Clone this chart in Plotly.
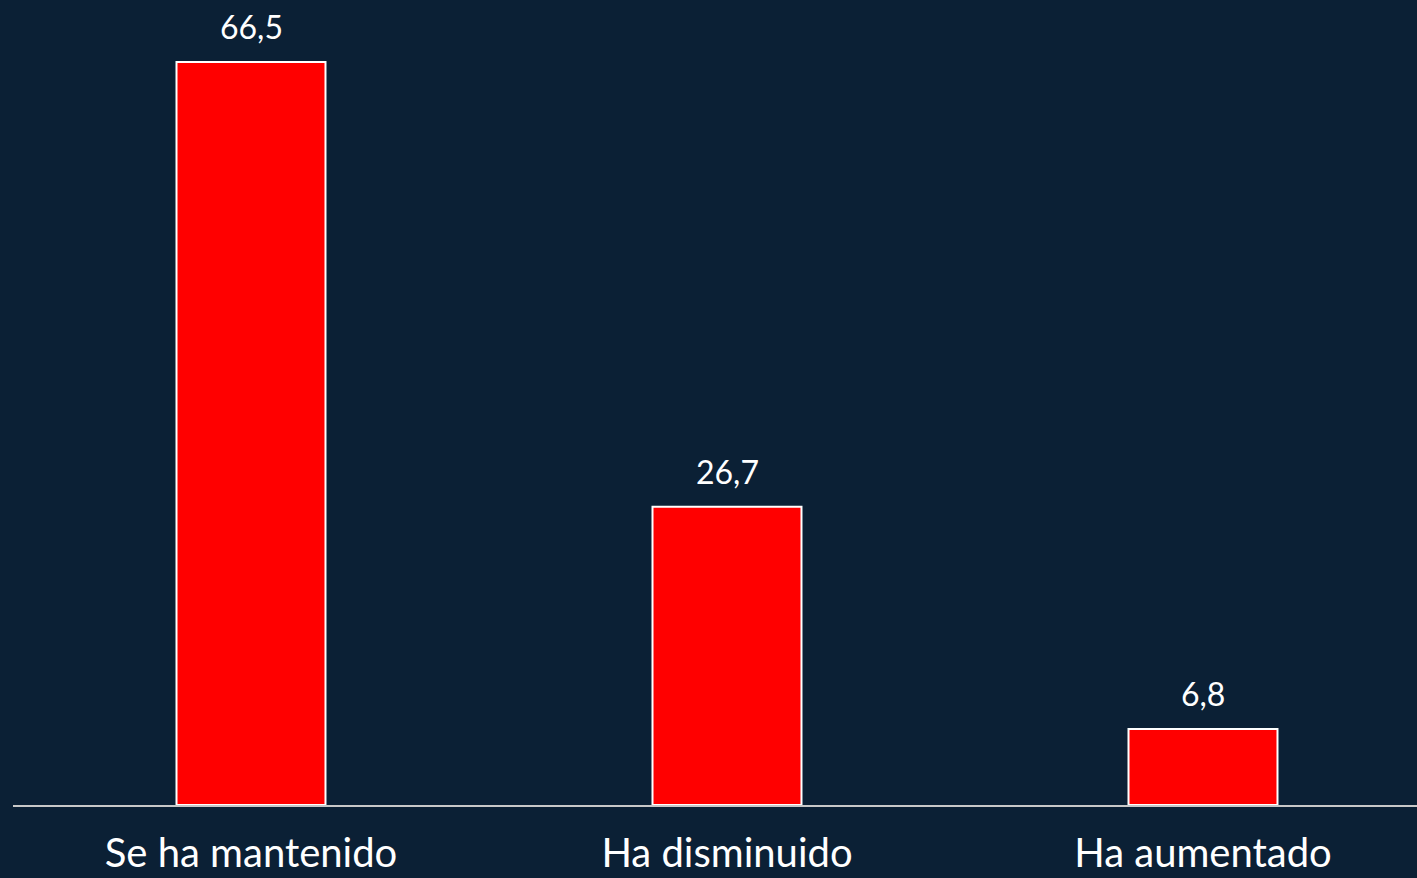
import plotly.graph_objects as go

categories = ["Se ha mantenido", "Ha disminuido", "Ha aumentado"]
values = [66.5, 26.7, 6.8]
value_labels = ["66,5", "26,7", "6,8"]

BG = "#0B2035"
FONT = "Lato, Carlito, 'Open Sans', sans-serif"

fig = go.Figure()
fig.add_trace(go.Bar(
    x=categories,
    y=values,
    marker=dict(color="#FF0000", line=dict(color="#FFFFFF", width=2)),
    hoverinfo="skip",
))

for c, v, t in zip(categories, values, value_labels):
    fig.add_annotation(x=c, y=v, text=t, showarrow=False, yanchor="bottom",
                       yshift=14, font=dict(family=FONT, size=32, color="#FFFFFF"))

fig.update_layout(
    width=1417, height=878,
    paper_bgcolor=BG, plot_bgcolor=BG,
    margin=dict(l=13, r=0, t=0, b=73, autoexpand=False),
    bargap=0.687,
    showlegend=False,
    xaxis=dict(
        range=[-0.5, 2.4496],
        showgrid=False, zeroline=False,
        showline=True, linecolor="#C8C8C8", linewidth=1.5,
        ticks="", ticklabelstandoff=12,
        tickfont=dict(family=FONT, size=40, color="#FFFFFF"),
        fixedrange=True,
    ),
    yaxis=dict(
        range=[0, 72.06], visible=False, showgrid=False, zeroline=False,
        fixedrange=True,
    ),
)

fig.write_html(
    "out.html",
    config={"displayModeBar": False, "staticPlot": True},
    post_script="document.body.style.margin='0';document.body.style.background='#0B2035';document.body.style.overflow='hidden';",
)
